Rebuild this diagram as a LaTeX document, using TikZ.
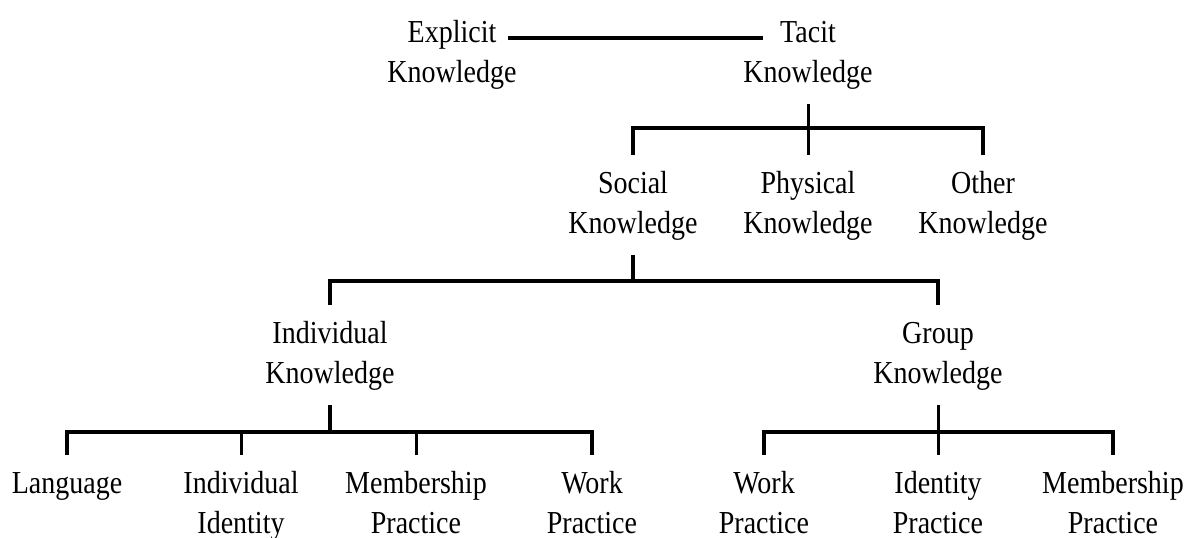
\documentclass[tikz,border=0pt]{standalone}
\usepackage{fontspec}
\setmainfont{Liberation Serif}
\usepackage{graphicx}
\newcommand{\twoline}[2]{\scalebox{0.875}[1]{\begin{tabular}[t]{@{}c@{}}#1\\#2\end{tabular}}}
\newcommand{\oneline}[1]{\scalebox{0.875}[1]{\begin{tabular}[t]{@{}c@{}}#1\end{tabular}}}
\begin{document}
\begin{tikzpicture}[x=1pt,y=-1pt,
  lbl/.style={inner sep=0pt, outer sep=10pt, anchor=base, font=\fontsize{32}{40}\selectfont},
  barline/.style={line width=4pt},
  stemline/.style={line width=3pt},
  thickstem/.style={line width=3.8pt}]
\useasboundingbox[fill=white] (0,0) rectangle (1187,538);
% nodes
\node[lbl] (expl) at (452,42) {\twoline{Explicit}{Knowledge}};
\node[lbl] (tacit) at (808,42) {\twoline{Tacit}{Knowledge}};
\node[lbl] (social) at (633,193) {\twoline{Social}{Knowledge}};
\node[lbl] (physical) at (808,193) {\twoline{Physical}{Knowledge}};
\node[lbl] (other) at (983,193) {\twoline{Other}{Knowledge}};
\node[lbl] (indiv) at (330,343) {\twoline{Individual}{Knowledge}};
\node[lbl] (group) at (938,343) {\twoline{Group}{Knowledge}};
\node[lbl] (lang) at (67,493) {\oneline{Language}};
\node[lbl] (iid) at (241,493) {\twoline{Individual}{Identity}};
\node[lbl] (mem) at (416,493) {\twoline{Membership}{Practice}};
\node[lbl] (work) at (592,493) {\twoline{Work}{Practice}};
\node[lbl] (gwork) at (764,493) {\twoline{Work}{Practice}};
\node[lbl] (gid) at (938,493) {\twoline{Identity}{Practice}};
\node[lbl] (gmem) at (1113,493) {\twoline{Membership}{Practice}};
% bar levels
\coordinate (y1) at (0,128);
\coordinate (y2) at (0,281);
\coordinate (y3) at (0,432);
% explicit -- tacit
\draw[barline] ([xshift=56pt,yshift=4pt]expl.base) -- ([xshift=-45pt,yshift=4pt]tacit.base);
% tacit level
\draw[barline] (social.north) -- (social.north |- y1) -- (other.north |- y1) -- (other.north);
\draw[stemline] (tacit.south) -- (physical.north);
% social level
\draw[thickstem] (social.south) -- (social.south |- y2);
\draw[barline] (indiv.north) -- (indiv.north |- y2) -- (group.north |- y2) -- (group.north);
% individual level
\draw[thickstem] (indiv.south) -- (indiv.south |- y3);
\draw[barline] (lang.north) -- (lang.north |- y3) -- (work.north |- y3) -- (work.north);
\draw[stemline] (iid.north) -- (iid.north |- y3);
\draw[stemline] (mem.north) -- (mem.north |- y3);
% group level
\draw[barline] (gwork.north) -- (gwork.north |- y3) -- (gmem.north |- y3) -- (gmem.north);
\draw[stemline] (group.south) -- (gid.north);
\end{tikzpicture}
\end{document}
